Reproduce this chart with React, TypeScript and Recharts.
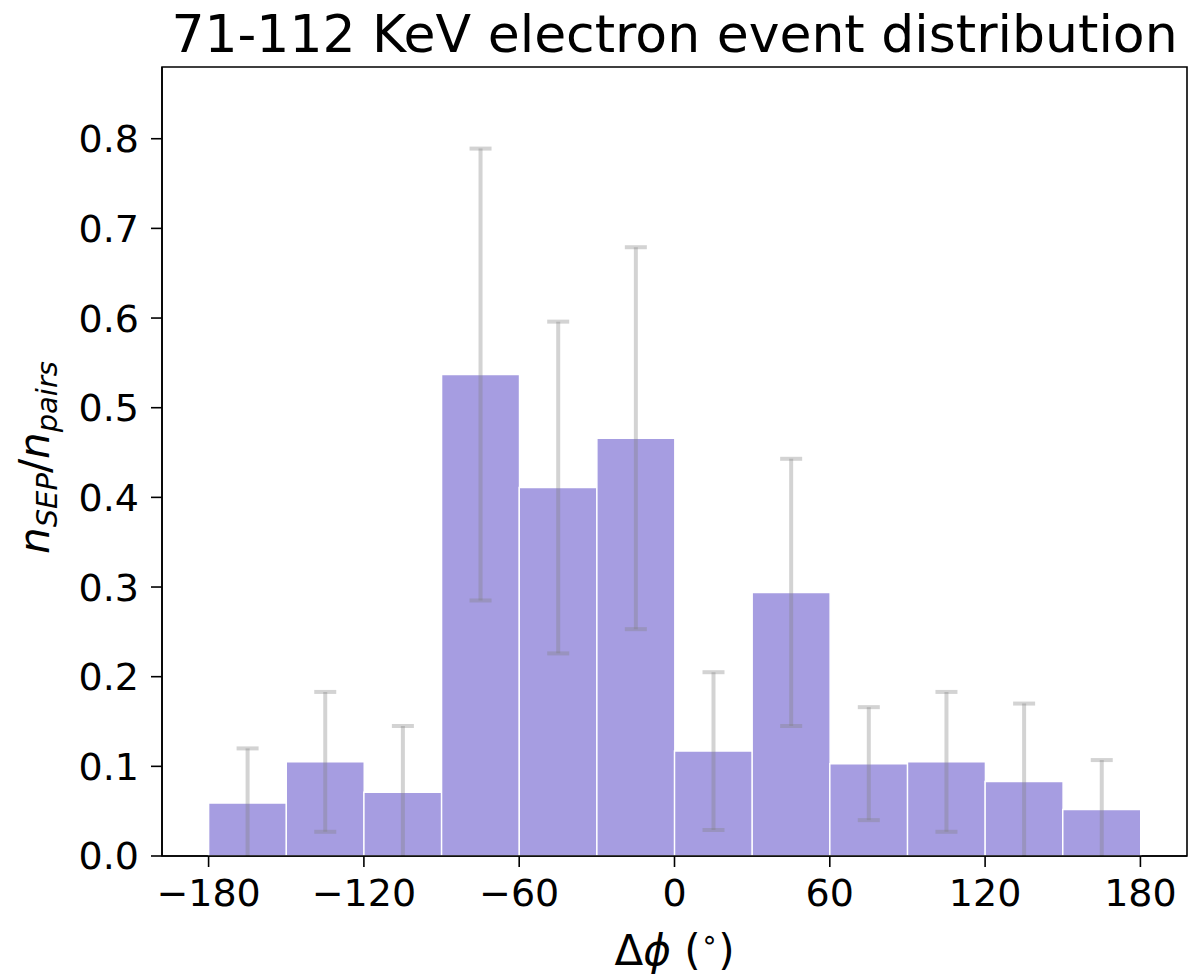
import React from 'react';
import { BarChart, Bar, XAxis, YAxis, ErrorBar, ReferenceArea } from 'recharts';

// bin centres (deg), heights and 1-sigma errors
const binCenters = [-165, -135, -105, -75, -45, -15, 15, 45, 75, 105, 135, 165];
const ratios = [0.059, 0.105, 0.071, 0.537, 0.411, 0.466, 0.117, 0.294, 0.103, 0.105, 0.083, 0.052];
const errors = [0.061, 0.078, 0.074, 0.252, 0.185, 0.213, 0.088, 0.149, 0.063, 0.078, 0.087, 0.055];
const xTicks = [-180, -120, -60, 0, 60, 120, 180];
const yTicks = [0, 0.1, 0.2, 0.3, 0.4, 0.5, 0.6, 0.7, 0.8];

const title = '71-112 KeV electron event distribution';

const XMIN = -198;
const XMAX = 198;
const YMAX = 0.88;

const W = 1200;
const H = 974;
const margin = { top: 67, right: 13, bottom: 0, left: 0 };
const yAxisW = 162;
const xAxisH = 118;
const plotW = W - margin.left - margin.right - yAxisW;
const plotH = H - margin.top - margin.bottom - xAxisH;

const font = 'DejaVu Sans, sans-serif';
const barFill = '#a69de1';

const data = binCenters.map((c, i) => ({ center: c, ratio: ratios[i], err: errors[i] }));

const fmtX = (v: number) => (v < 0 ? `\u2212${Math.abs(v)}` : `${v}`);

const XLabel = (props: any) => {
	const vb = props.viewBox;
	const cx = vb.x + vb.width / 2;
	const y = vb.y + 109;
	return (
		<text x={cx} y={y} textAnchor="middle" fontFamily={font} fontSize={42} fill="#000">
			<tspan>Δ</tspan>
			<tspan fontStyle="italic">ϕ</tspan>
			<tspan> (</tspan>
			<tspan fontSize={28} dy={-16}>∘</tspan>
			<tspan dy={16}>)</tspan>
		</text>
	);
};

const YLabel = (props: any) => {
	const vb = props.viewBox;
	const x = vb.x + 49;
	const y = vb.y + vb.height / 2 - 4;
	return (
		<text x={x} y={y} textAnchor="middle" transform={`rotate(-90, ${x}, ${y})`} fontFamily={font} fontSize={42} fill="#000">
			<tspan fontStyle="italic">n</tspan>
			<tspan fontStyle="italic" fontSize={29} dy={8}>SEP</tspan>
			<tspan dy={-8}>/</tspan>
			<tspan fontStyle="italic">n</tspan>
			<tspan fontStyle="italic" fontSize={29} dy={8}>pairs</tspan>
		</text>
	);
};

const Title = (props: any) => {
	const vb = props.viewBox;
	return (
		<text x={vb.x + vb.width / 2} y={vb.y - 15} textAnchor="middle" fontFamily={font} fontSize={52} fill="#000">
			{title}
		</text>
	);
};

export default function App() {
	return (
		<div style={{ position: 'absolute', left: 0, top: 0, width: W, height: H, background: '#fff' }}>
			<BarChart width={W} height={H} data={data} margin={margin} barCategoryGap="0%" barGap={0}>
				<defs>
					{/* matplotlib clips the error bars to the axes box */}
					<clipPath id="plot-clip">
						<rect x={margin.left + yAxisW} y={margin.top} width={plotW} height={plotH} />
					</clipPath>
				</defs>
				<XAxis
					type="number"
					dataKey="center"
					domain={[XMIN, XMAX]}
					ticks={xTicks}
					allowDataOverflow
					tickFormatter={fmtX}
					height={xAxisH}
					stroke="#000"
					strokeWidth={1.6}
					tickSize={11}
					tickMargin={12}
					tick={{ fill: '#000', fontFamily: font, fontSize: 38 }}
					label={{ content: XLabel }}
				/>
				<YAxis
					type="number"
					domain={[0, YMAX]}
					ticks={yTicks}
					allowDataOverflow
					tickFormatter={(v: number) => v.toFixed(1)}
					width={yAxisW}
					stroke="#000"
					strokeWidth={1.6}
					tickSize={11}
					tickMargin={12}
					tick={{ fill: '#000', fontFamily: font, fontSize: 38 }}
					label={{ content: YLabel }}
				/>
				<Bar
					dataKey="ratio"
					fill={barFill}
					stroke="#fff"
					strokeWidth={1.5}
					isAnimationActive={false}
				>
					<ErrorBar
						dataKey="err"
						direction="y"
						width={11}
						stroke="#808080"
						strokeOpacity={0.35}
						strokeWidth={4}
						clipPath="url(#plot-clip)"
					/>
				</Bar>
				<ReferenceArea
					x1={XMIN}
					x2={XMAX}
					y1={0}
					y2={YMAX}
					fill="none"
					stroke="#000"
					strokeWidth={1.6}
					ifOverflow="visible"
					label={{ content: Title }}
				/>
			</BarChart>
		</div>
	);
}
